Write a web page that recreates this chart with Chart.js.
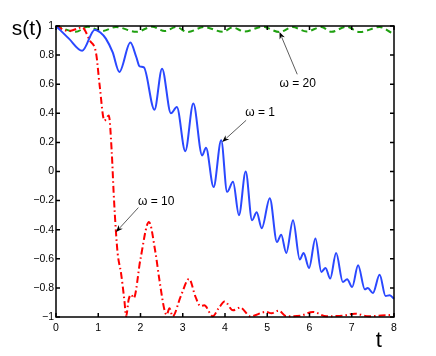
<!DOCTYPE html>
<html><head><meta charset="utf-8">
<script src="https://cdn.jsdelivr.net/npm/chart.js@4.4.1/dist/chart.umd.min.js"></script>
<style>html,body{margin:0;padding:0;background:#fff;}#wrap{width:436px;height:356px;}</style>
</head><body><div id="wrap"><canvas id="c" width="436" height="356"></canvas></div>
<script>
// ω = 1 (blue, solid)
const tW1 = [0,0.3,0.62,0.92,1.05,1.18,1.34,1.50,1.76,1.90,1.98,2.08,2.33,2.51,2.72,2.86,3.06,3.25,3.46,3.55,3.73,3.91,4.05,4.19,4.33,4.49,4.64,4.75,4.87,5.06,5.23,5.33,5.45,5.61,5.77,5.86,5.99,6.14,6.28,6.38,6.49,6.63,6.79,6.89,7.01,7.15,7.31,7.38,7.50,7.66,7.80,7.90,8.0];
const sW1 = [1,0.915,0.83,0.975,0.955,0.913,0.82,0.684,0.886,0.787,0.722,0.715,0.425,0.707,0.40,0.443,0.14,0.467,0.11,0.164,-0.107,0.214,-0.14,-0.07,-0.30,0.0,-0.335,-0.28,-0.39,-0.183,-0.485,-0.435,-0.56,-0.335,-0.605,-0.56,-0.663,-0.46,-0.69,-0.663,-0.736,-0.56,-0.76,-0.74,-0.794,-0.645,-0.81,-0.80,-0.835,-0.71,-0.856,-0.85,-0.875];
// ω = 10 (red, dash-dot)
const tW10 = [0,0.3,0.62,0.8,0.95,1.03,1.145,1.25,1.32,1.365,1.42,1.46,1.54,1.62,1.66,1.72,1.78,1.84,2.0,2.2,2.35,2.45,2.57,2.62,2.685,2.76,2.95,3.15,3.3,3.42,3.51,3.71,3.85,3.99,4.19,4.36,4.6,4.97,5.1,5.27,5.45,5.8,6.08,6.4,6.8,7.07,7.4,7.7,8.0];
const sW10 = [1,0.965,0.99,0.90,0.81,0.60,0.35,0.385,0.13,-0.15,-0.42,-0.565,-0.70,-0.89,-0.995,-0.88,-0.846,-0.87,-0.60,-0.347,-0.55,-0.75,-0.955,-0.985,-0.94,-0.995,-0.86,-0.738,-0.86,-0.925,-0.92,-0.995,-0.94,-0.893,-0.954,-0.935,-0.995,-0.965,-0.975,-0.956,-0.995,-0.99,-0.965,-0.995,-0.99,-0.977,-0.995,-0.99,-0.985];
// ω = 20 (green, dashed)
const tW20 = [0,0.47,0.75,1.09,1.42,1.90,2.28,2.57,2.84,3.12,3.5,3.95,4.18,4.46,4.89,5.29,5.60,5.93,6.28,6.52,6.87,7.19,7.66,7.97,8.0];
const sW20 = [1,0.96,0.995,0.965,0.993,0.96,0.995,0.965,0.993,0.958,0.993,0.96,0.99,0.962,0.995,0.958,0.993,0.962,0.993,0.96,0.995,0.958,0.993,0.95,0.948];

const xTicks = [0,1,2,3,4,5,6,7,8];
const xTickLabels = ['0','1','2','3','4','5','6','7','8'];
const yTicks = [-1,-0.8,-0.6,-0.4,-0.2,0,0.2,0.4,0.6,0.8,1];
const yTickLabels = ['\u22121','\u22120.8','\u22120.6','\u22120.4','\u22120.2','0','0.2','0.4','0.6','0.8','1'];

const annoLabels = ['\u03c9 = 20','\u03c9 = 1','\u03c9 = 10'];
const annoTextAt = [[5.72,0.606],[4.83,0.403],[2.37,-0.205]];
const annoTail  = [[5.71,0.668],[4.50,0.352],[1.95,-0.248]];
const annoTip   = [[5.29,0.959],[3.934,0.203],[1.42,-0.416]];

const pts = (t,s) => t.map((v,i)=>({x:v,y:s[i]}));

const decor = {
  id:'decor',
  afterDatasetsDraw(chart){
    const {ctx, chartArea:a, scales:{x,y}} = chart;
    ctx.save();
    ctx.strokeStyle='#000'; ctx.lineWidth=1.5;
    ctx.strokeRect(a.left, a.top, a.right-a.left, a.bottom-a.top);
    ctx.beginPath();
    xTicks.forEach(v=>{const px=x.getPixelForValue(v); ctx.moveTo(px,a.bottom); ctx.lineTo(px,a.bottom-4); ctx.moveTo(px,a.top); ctx.lineTo(px,a.top+4);});
    yTicks.forEach(v=>{const py=y.getPixelForValue(v); ctx.moveTo(a.left,py); ctx.lineTo(a.left+4,py); ctx.moveTo(a.right,py); ctx.lineTo(a.right-4,py);});
    ctx.stroke();
    // annotations
    ctx.font = "12px 'Liberation Sans', Arial, sans-serif";
    ctx.textAlign='center'; ctx.textBaseline='middle'; ctx.fillStyle='#000';
    annoLabels.forEach((lab,i)=>{
      const tx=x.getPixelForValue(annoTextAt[i][0]), ty=y.getPixelForValue(annoTextAt[i][1]);
      ctx.fillText(lab,tx,ty);
      const x0=x.getPixelForValue(annoTail[i][0]), y0=y.getPixelForValue(annoTail[i][1]);
      const x1=x.getPixelForValue(annoTip[i][0]), y1=y.getPixelForValue(annoTip[i][1]);
      const ang=Math.atan2(y1-y0,x1-x0), L=7, W=2.8;
      ctx.strokeStyle='#333'; ctx.lineWidth=0.8;
      ctx.beginPath(); ctx.moveTo(x0,y0); ctx.lineTo(x1-Math.cos(ang)*L*0.8,y1-Math.sin(ang)*L*0.8); ctx.stroke();
      ctx.fillStyle='#000';
      ctx.beginPath();
      ctx.moveTo(x1,y1);
      ctx.lineTo(x1-Math.cos(ang)*L+Math.sin(ang)*W, y1-Math.sin(ang)*L-Math.cos(ang)*W);
      ctx.lineTo(x1-Math.cos(ang)*L*0.7, y1-Math.sin(ang)*L*0.7);
      ctx.lineTo(x1-Math.cos(ang)*L-Math.sin(ang)*W, y1-Math.sin(ang)*L+Math.cos(ang)*W);
      ctx.closePath(); ctx.fill();
    });
    // axis titles
    ctx.fillStyle='#000';
    ctx.textAlign='center'; ctx.textBaseline='alphabetic';
    ctx.font = "21px 'Liberation Sans', Arial, sans-serif";
    ctx.fillText('s(t)', 27, 35);
    ctx.font = "22px 'Liberation Sans', Arial, sans-serif";
    ctx.fillText('t', 378.7, 347);
    ctx.restore();
  }
};

new Chart(document.getElementById('c'), {
  type:'line',
  data:{datasets:[
    {label:'\u03c9 = 1', data:pts(tW1,sW1), borderColor:'#2a48ff', borderWidth:2, pointRadius:0, cubicInterpolationMode:'monotone', fill:false, clip:6},
    {label:'\u03c9 = 10', data:pts(tW10,sW10), borderColor:'#ff0000', borderWidth:2, borderDash:[7,3,1.5,3], pointRadius:0, cubicInterpolationMode:'monotone', fill:false, clip:6},
    {label:'\u03c9 = 20', data:pts(tW20,sW20), borderColor:'#1fa010', borderWidth:2, borderDash:[6,4], pointRadius:0, cubicInterpolationMode:'monotone', fill:false, clip:6}
  ]},
  options:{
    responsive:false, animation:false, devicePixelRatio:1,
    layout:{autoPadding:false, padding:{left:0,right:42,top:26,bottom:18}},
    plugins:{legend:{display:false}, tooltip:{enabled:false}},
    scales:{
      x:{type:'linear', min:0, max:8,
        afterBuildTicks:s=>{s.ticks=xTicks.map(v=>({value:v}));},
        afterFit:s=>{s.height=21;},
        grid:{display:false, drawTicks:false}, border:{display:false},
        ticks:{padding:5, color:'#000', font:{family:"'Liberation Sans', Arial, sans-serif", size:10.5},
          callback:(v,i)=>xTickLabels[i]}},
      y:{type:'linear', min:-1, max:1,
        afterBuildTicks:s=>{s.ticks=yTicks.map(v=>({value:v}));},
        afterFit:s=>{s.width=56;},
        grid:{display:false, drawTicks:false}, border:{display:false},
        ticks:{padding:2, color:'#000', font:{family:"'Liberation Sans', Arial, sans-serif", size:10.5},
          callback:(v,i)=>yTickLabels[i]}}
    }
  },
  plugins:[decor]
});
</script></body></html>
